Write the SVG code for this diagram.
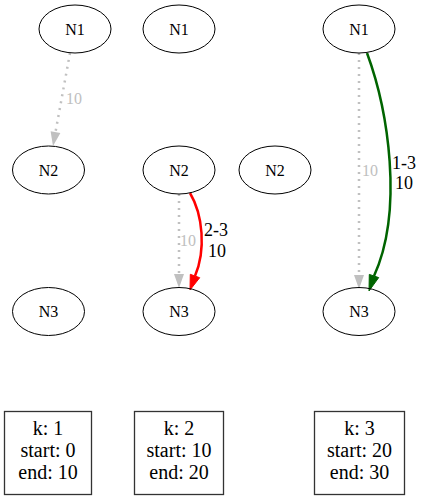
<svg xmlns="http://www.w3.org/2000/svg" width="425" height="500" viewBox="0 0 425 500">
<style>
text{font-family:'Liberation Serif','Times New Roman','DejaVu Serif',serif}
.node ellipse{fill:none;stroke:#000;stroke-width:1}
.node text{font-size:16px;text-anchor:middle;fill:#000}
.dot{fill:none;stroke:#c0c0c0;stroke-width:2.5;stroke-dasharray:2,5}
.gl{font-size:16px;fill:#c0c0c0}
.el{font-size:18px;fill:#000;text-anchor:middle}
.leg rect{fill:none;stroke:#333;stroke-width:1.3}
.leg text{font-size:20px;text-anchor:middle;fill:#000}
</style>
<rect width="425" height="500" fill="#fff"/>
<g id="connectors">
<path class="dot" d="M70,53 L55.5,132"/>
<polygon points="53,146 60.4,133.1 50.6,131.3" fill="#c0c0c0"/>
<text class="gl" x="66" y="104">10</text>
<path class="dot" d="M179,194 L179,274"/>
<polygon points="179,288 174,274 184,274" fill="#c0c0c0"/>
<text class="gl" x="180" y="246">10</text>
<path d="M190,193 C203,215 206,250 195,276" fill="none" stroke="#ff0000" stroke-width="2.5"/>
<polygon points="190,290 199.7,277.7 190.3,274.3" fill="#ff0000" stroke="#ff0000" stroke-width="1"/>
<text class="el" x="216" y="236">2-3</text>
<text class="el" x="217" y="257">10</text>
<path class="dot" d="M359,53 L359,274"/>
<polygon points="359,289 354,275 364,275" fill="#c0c0c0"/>
<text class="gl" x="362" y="176">10</text>
<path d="M367,53 C388,110 404,210 374,276" fill="none" stroke="#006400" stroke-width="2.5"/>
<polygon points="369,291 378.7,277.6 369.3,274.4" fill="#006400" stroke="#006400" stroke-width="1"/>
<text class="el" x="404" y="169">1-3</text>
<text class="el" x="404" y="189">10</text>
</g>
<g id="k1_N1" class="node"><ellipse cx="75" cy="29" rx="36" ry="24"/><text x="75" y="34.5">N1</text></g>
<g id="k1_N2" class="node"><ellipse cx="48.5" cy="170" rx="36" ry="24"/><text x="48.5" y="175.5">N2</text></g>
<g id="k1_N3" class="node"><ellipse cx="48.5" cy="311.5" rx="36" ry="24"/><text x="48.5" y="317">N3</text></g>
<g id="k2_N1" class="node"><ellipse cx="179" cy="29" rx="36" ry="24"/><text x="179" y="34.5">N1</text></g>
<g id="k2_N2" class="node"><ellipse cx="179" cy="170" rx="36" ry="24"/><text x="179" y="175.5">N2</text></g>
<g id="k2_N3" class="node"><ellipse cx="179" cy="311.5" rx="36" ry="24"/><text x="179" y="317">N3</text></g>
<g id="k3_N1" class="node"><ellipse cx="359" cy="29" rx="36" ry="24"/><text x="359" y="34.5">N1</text></g>
<g id="k3_N2" class="node"><ellipse cx="275" cy="170" rx="36" ry="24"/><text x="275" y="175.5">N2</text></g>
<g id="k3_N3" class="node"><ellipse cx="359" cy="311.5" rx="36" ry="24"/><text x="359" y="317">N3</text></g>
<g id="legend1" class="leg"><rect x="4.5" y="411.5" width="87" height="83"/><text x="48" y="435">k: 1</text><text x="48" y="457">start: 0</text><text x="48" y="479">end: 10</text></g>
<g id="legend2" class="leg"><rect x="134.5" y="411.5" width="89" height="83"/><text x="179" y="435">k: 2</text><text x="179" y="457">start: 10</text><text x="179" y="479">end: 20</text></g>
<g id="legend3" class="leg"><rect x="314.5" y="411.5" width="90" height="83"/><text x="359.5" y="435">k: 3</text><text x="359.5" y="457">start: 20</text><text x="359.5" y="479">end: 30</text></g>
</svg>
